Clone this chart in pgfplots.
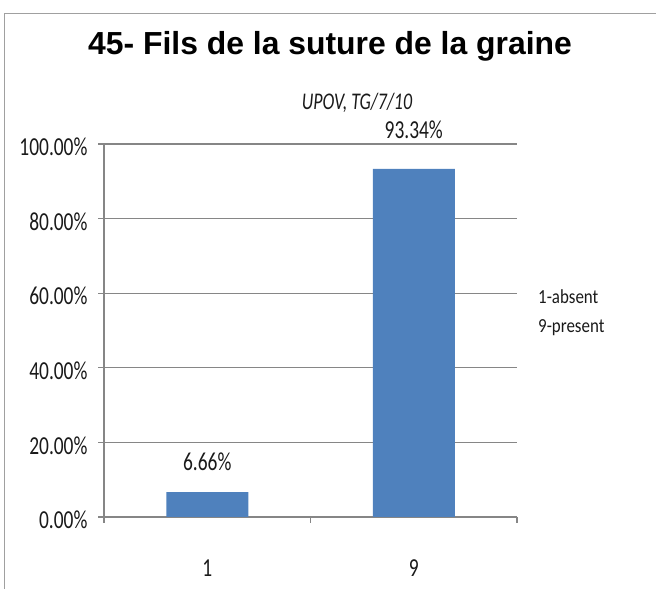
\documentclass[border=0pt]{standalone}
\usepackage{fontspec}
\setmainfont{Carlito}[FakeStretch=0.75]
\newfontfamily\titlefont{Liberation Sans}
\newfontfamily\legfont{Carlito}[FakeStretch=0.85]
\usepackage{pgfplots}
\usepackage{pgfplotstable}
\pgfplotsset{compat=1.18}
\definecolor{barblue}{HTML}{4F81BD}
\definecolor{gridgray}{HTML}{868686}
\definecolor{bordergray}{HTML}{A0A0A0}
\definecolor{txt}{HTML}{1A1A1A}
\pgfplotstableread{
x   y     s
0.5 6.66  18
1.5 93.34 27
}\datatable
\begin{document}
\begin{tikzpicture}[x=1bp,y=1bp]
\path[use as bounding box] (0,0) rectangle (656,589);
\draw[color=bordergray, line width=1.5bp] (4.5,0) -- (4.5,575.5) -- (656,575.5);
\begin{axis}[
  at={(104bp,72bp)}, anchor=south west,
  scale only axis, width=413bp, height=373bp,
  xmin=0, xmax=2, ymin=0, ymax=100,
  axis lines*=left,
  ytick={0,20,40,60,80,100},
  ymajorgrids,
  grid style={gridgray, line width=1.3bp},
  axis line style={gridgray, line width=1.3bp},
  tick style={gridgray, line width=1.3bp},
  tick align=outside, major tick length=6bp,
  xtick={0,1,2}, xticklabels={},
  extra x ticks={0.5,1.5}, extra x tick labels={1,9},
  extra x tick style={major tick length=0pt, xmajorgrids=false, xticklabel style={yshift=-39bp}},
  /pgf/number format/assume math mode=true,
  yticklabel={\pgfmathprintnumber[fixed,fixed zerofill,precision=2]{\tick}\%},
  yticklabel style={xshift=-7bp, yshift=-3bp},
  ticklabel style={font=\fontsize{26}{30}\selectfont, text=txt},
  ybar, bar width=82bp,
  visualization depends on={\thisrow{s} \as \lshift},
  nodes near coords={\pgfmathprintnumber[fixed,fixed zerofill,precision=2]{\pgfplotspointmeta}\%},
  nodes near coords style={font=\fontsize{26}{30}\selectfont, text=txt, yshift=\lshift bp},
  clip=false
]
\addplot[fill=barblue, draw=none] table[x=x, y=y] {\datatable};
\end{axis}
\node[font=\titlefont\bfseries\fontsize{32}{38}\selectfont, anchor=base] at (330,534) {45- Fils de la suture de la graine};
\node[font=\itshape\fontsize{24}{28}\selectfont, text=txt, anchor=base] at (357,479) {UPOV, TG/7/10};
\node[font=\legfont\fontsize{20}{24}\selectfont, text=txt, anchor=base west, inner sep=0pt] at (538,285) {1-absent};
\node[font=\legfont\fontsize{20}{24}\selectfont, text=txt, anchor=base west, inner sep=0pt] at (538,256) {9-present};
\end{tikzpicture}
\end{document}
